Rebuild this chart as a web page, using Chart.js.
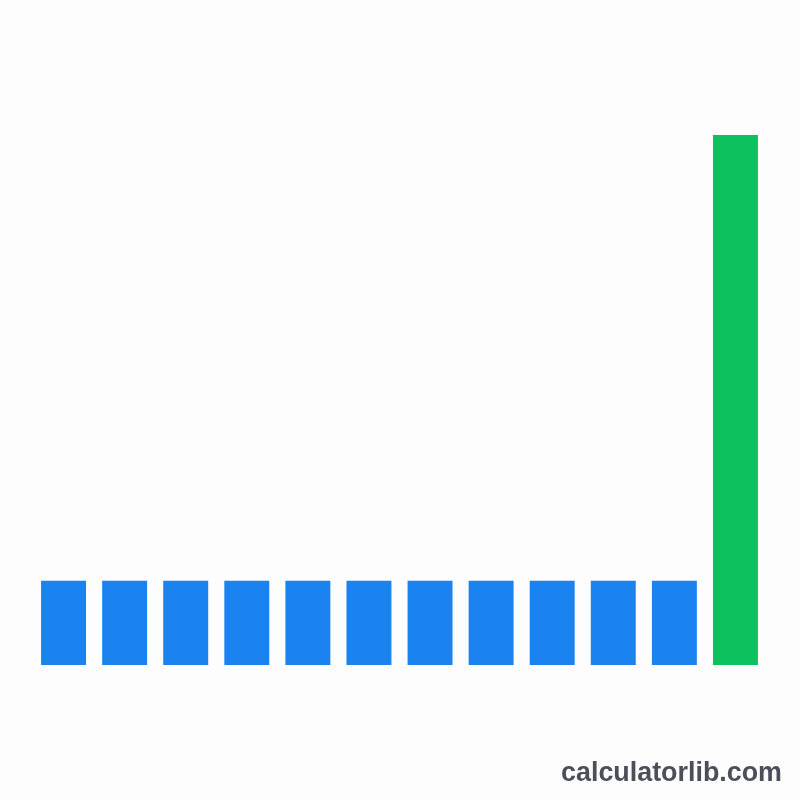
<!DOCTYPE html>
<html>
<head>
<meta charset="utf-8">
<script src="https://cdn.jsdelivr.net/npm/chart.js@4/dist/chart.umd.min.js"></script>
<style>
html,body{margin:0;padding:0;background:#fdfdfd;}
#wrap{width:800px;height:800px;}
</style>
</head>
<body>
<div id="wrap"><canvas id="c" width="800" height="800"></canvas></div>
<script>
const categories = ['1','2','3','4','5','6','7','8','9','10','11','12'];
const values = [100,100,100,100,100,100,100,100,100,100,100,630];
const barColors = ['#1a83f0','#1a83f0','#1a83f0','#1a83f0','#1a83f0','#1a83f0','#1a83f0','#1a83f0','#1a83f0','#1a83f0','#1a83f0','#0cc25f'];
const watermark = 'calculatorlib.com';

const watermarkPlugin = {
  id: 'watermark',
  afterDraw(chart) {
    const ctx = chart.ctx;
    ctx.save();
    let size = 25;
    ctx.font = 'bold ' + size + 'px "Liberation Sans", Arial, sans-serif';
    const w = ctx.measureText(watermark).width;
    size = size * 221 / w;
    ctx.font = 'bold ' + size + 'px "Liberation Sans", Arial, sans-serif';
    ctx.fillStyle = '#4a4f59';
    ctx.textAlign = 'right';
    ctx.textBaseline = 'alphabetic';
    ctx.fillText(watermark, 782, 781);
    ctx.restore();
  }
};

new Chart(document.getElementById('c'), {
  type: 'bar',
  data: {
    labels: categories,
    datasets: [{
      data: values,
      backgroundColor: barColors,
      borderWidth: 0,
      categoryPercentage: 1.0,
      barPercentage: 0.736
    }]
  },
  options: {
    responsive: false,
    animation: false,
    layout: { padding: { top: 135, bottom: 135, left: 33, right: 34 } },
    plugins: { legend: { display: false }, tooltip: { enabled: false }, title: { display: false } },
    scales: {
      x: { display: false },
      y: { display: false, min: 0, max: 630 }
    }
  },
  plugins: [watermarkPlugin]
});
</script>
</body>
</html>
